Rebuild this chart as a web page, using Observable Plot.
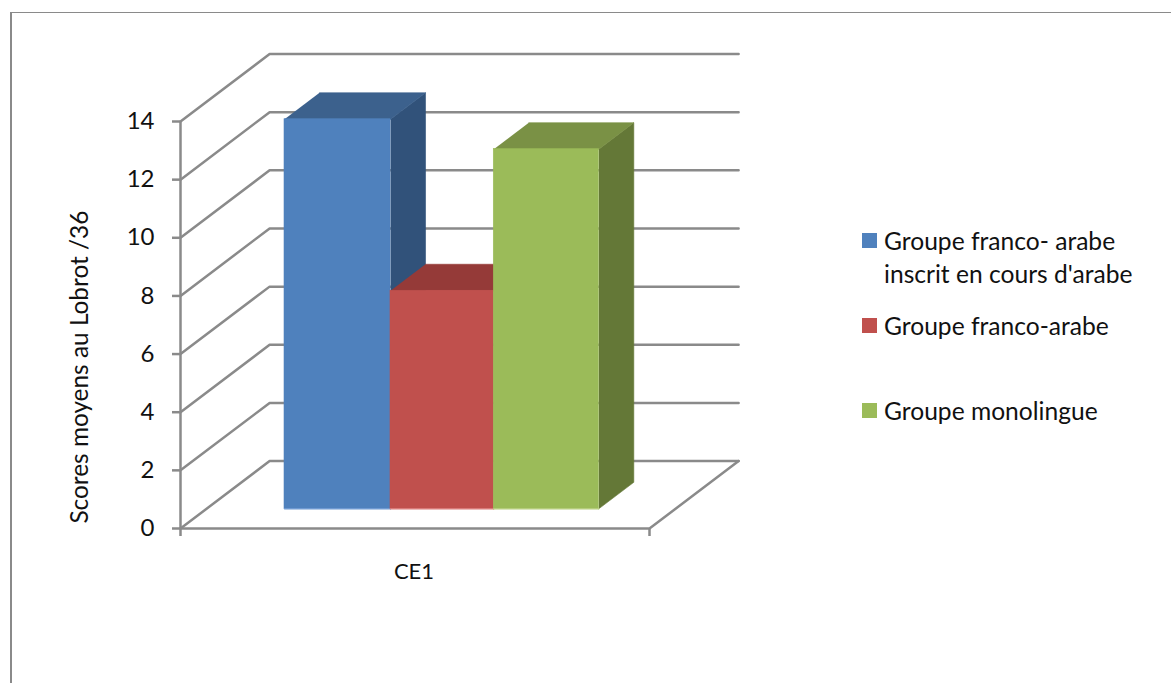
<!DOCTYPE html>
<html lang="fr">
<head>
<meta charset="utf-8">
<title>Scores moyens au Lobrot</title>
<script src="https://cdn.jsdelivr.net/npm/d3@7"></script>
<script src="https://cdn.jsdelivr.net/npm/@observablehq/plot@0.6"></script>
<style>
  html, body { margin: 0; padding: 0; background: #fff; }
  #chart { position: relative; width: 1171px; height: 683px; overflow: hidden; font-family: Lato, sans-serif; color: #111; }
  #chart svg { position: absolute; left: 0; top: 0; background: transparent; }
  #border { position: absolute; left: 10px; top: 12px; right: 0; bottom: 0; border-left: 2px solid #8a8a8a; border-top: 1px solid #8a8a8a; }
  .key { position: absolute; left: 862px; font-size: 24.6px; line-height: 33px; white-space: nowrap; }
  .key i { position: absolute; left: 0; top: 9px; width: 15px; height: 15px; }
  .key span { display: block; margin-left: 22px; }
</style>
</head>
<body>
<div id="chart"><div id="border"></div></div>
<script>
const categories = ["CE1"];
const groups = ["Groupe franco- arabe\ninscrit en cours d'arabe", "Groupe franco-arabe", "Groupe monolingue"];
const scores = [13.4, 7.5, 12.37];
const frontColors = ["#4f81bd", "#c0504d", "#9bbb59"];
const topColors = ["#3c618d", "#953a38", "#7a9145"];
const sideColors = ["#31527a", "#7f3230", "#647837"];
const baseColors = ["#6f9ad2", "#d97a78", "#b5cd7c"];
const yTicks = [0, 2, 4, 6, 8, 10, 12, 14];
const legendTops = [224, 309, 394];

// Oblique projection: a unit of depth shifts a point along both scales.
const depthX = 0.19;
const depthY = 2.32;
const barDepthStart = 0.292;
const barDepthEnd = 0.685;
const barEdges = [0.1663, 0.3923, 0.6125, 0.8364];

const project = (x, y, depth) => ({x: x + depth * depthX, y: y + depth * depthY});
const axisColor = "#8a8a8a";
const lineWidth = 2.5;

const wallLine = (v) => [project(0, v, 0), project(0, v, 1), project(1, v, 1)];
const wallMarks = yTicks.map((v) =>
  Plot.line(wallLine(v), {x: "x", y: "y", stroke: axisColor, strokeWidth: lineWidth})
);
const floorEdge = [project(1, 0, 1), project(1, 0, 0), project(0, 0, 0)];

const face = (points, fill) =>
  Plot.line(points, {x: "x", y: "y", fill, stroke: fill, strokeWidth: 0.6});

const barMarks = scores.flatMap((v, i) => {
  const x0 = barEdges[i];
  const x1 = barEdges[i + 1];
  const a = barDepthStart;
  const b = barDepthEnd;
  const front = [project(x0, 0, a), project(x1, v, a)];
  return [
    face([project(x1, 0, a), project(x1, 0, b), project(x1, v, b), project(x1, v, a)], sideColors[i]),
    face([project(x0, v, a), project(x1, v, a), project(x1, v, b), project(x0, v, b)], topColors[i]),
    Plot.rect([0], {
      x1: () => front[0].x, x2: () => front[1].x,
      y1: () => front[0].y, y2: () => front[1].y,
      fill: frontColors[i], stroke: frontColors[i], strokeWidth: 0.6
    }),
    Plot.line(front.map((p) => ({x: p.x, y: front[0].y})), {x: "x", y: "y", stroke: baseColors[i], strokeWidth: 1.5})
  ];
});

const chart = Plot.plot({
  width: 1171,
  height: 683,
  marginLeft: 180,
  marginRight: 522,
  marginTop: 121,
  marginBottom: 155,
  style: {fontFamily: "Lato, sans-serif", color: "#111", background: "transparent", overflow: "visible"},
  x: {domain: [0, 1]},
  y: {domain: [0, 14]},
  marks: [
    ...wallMarks,
    Plot.line(floorEdge, {x: "x", y: "y", stroke: axisColor, strokeWidth: lineWidth}),
    ...barMarks,
    Plot.ruleX([0], {y1: 0, y2: 14, stroke: axisColor, strokeWidth: lineWidth}),
    Plot.axisY({ticks: yTicks, tickSize: 8, tickPadding: 18, stroke: axisColor, strokeWidth: lineWidth, strokeOpacity: 1, fontSize: 24, label: null}),
    Plot.axisX({ticks: [0, 1], tickSize: 8, tickFormat: () => "", stroke: axisColor, strokeWidth: lineWidth, strokeOpacity: 1, label: null}),
    Plot.text(categories, {x: 0.5, y: 0, dx: -1, text: (d) => d, dy: 43, fontSize: 22, fill: "#111"}),
    Plot.text(["Scores moyens au Lobrot /36"], {
      x: 0, y: 5.55, text: (d) => d, rotate: -90, dx: -100, fontSize: 24.4, fill: "#111"
    })
  ]
});

const root = document.getElementById("chart");
root.appendChild(chart);

// Legend entries sit to the right of the plot, one swatch per group.
groups.forEach((name, i) => {
  const row = document.createElement("div");
  row.className = "key";
  row.style.top = legendTops[i] + "px";
  const swatch = document.createElement("i");
  swatch.style.background = frontColors[i];
  row.appendChild(swatch);
  name.split("\n").forEach((line) => {
    const text = document.createElement("span");
    text.textContent = line;
    row.appendChild(text);
  });
  root.appendChild(row);
});
</script>
</body>
</html>
